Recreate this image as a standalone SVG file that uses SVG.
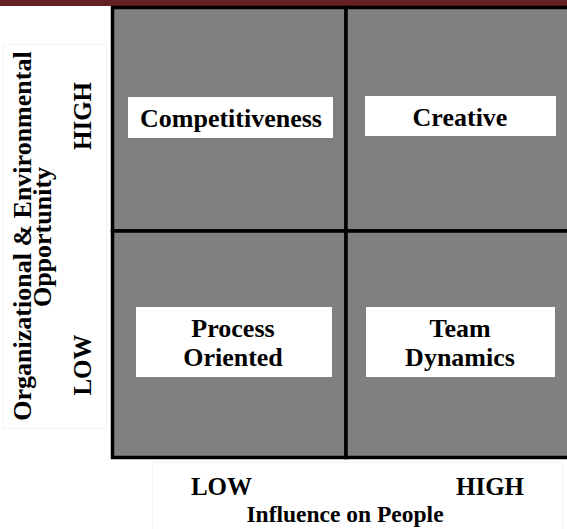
<svg xmlns="http://www.w3.org/2000/svg" width="567" height="529" viewBox="0 0 567 529">
  <style>
    .cell { fill: #808080; stroke: #000; stroke-width: 3.5; }
    .box { fill: #fff; }
    .txt { font-family: "Liberation Serif", "Times New Roman", serif; font-weight: bold; font-size: 26px; fill: #000; text-anchor: middle; }
    .axis { font-size: 25px; }
    .title { font-size: 23.5px; }
    .frame { fill: none; stroke: #f3f3f3; stroke-width: 1; }
  </style>
  <rect width="567" height="529" fill="#fff"/>
  <!-- top band -->
  <rect x="0" y="0" width="567" height="6" fill="#652022"/>

  <!-- faint label frames -->
  <rect class="frame" x="3.5" y="44.5" width="103" height="384"/>
  <rect class="frame" x="152.5" y="462.5" width="410" height="70"/>

  <!-- matrix quadrants -->
  <g id="quadrants">
    <rect class="cell" x="112.5" y="7.5" width="233.5" height="223.5"/>
    <rect class="cell" x="346" y="7.5" width="225" height="223.5"/>
    <rect class="cell" x="112.5" y="231" width="233.5" height="226.5"/>
    <rect class="cell" x="346" y="231" width="225" height="226.5"/>
  </g>

  <g id="competitiveness">
    <rect class="box" x="128" y="97" width="205" height="41"/>
    <text class="txt" x="231" y="127">Competitiveness</text>
  </g>
  <g id="creative">
    <rect class="box" x="365" y="96" width="191" height="40"/>
    <text class="txt" x="460" y="126">Creative</text>
  </g>
  <g id="process-oriented">
    <rect class="box" x="136" y="307" width="196" height="70"/>
    <text class="txt" x="233" y="337">Process</text>
    <text class="txt" x="233" y="366">Oriented</text>
  </g>
  <g id="team-dynamics">
    <rect class="box" x="366" y="307" width="189" height="70"/>
    <text class="txt" x="460" y="337">Team</text>
    <text class="txt" x="460" y="366">Dynamics</text>
  </g>

  <!-- axis labels -->
  <g id="y-axis">
    <text class="txt" transform="translate(31,236) rotate(-90)">Organizational &amp; Environmental</text>
    <text class="txt" transform="translate(51,237) rotate(-90)">Opportunity</text>
    <text class="txt axis" transform="translate(91,116) rotate(-90)">HIGH</text>
    <text class="txt axis" transform="translate(91,365) rotate(-90)">LOW</text>
  </g>
  <g id="x-axis">
    <text class="txt axis" x="221.5" y="495">LOW</text>
    <text class="txt axis" x="490" y="495">HIGH</text>
    <text class="txt title" x="345" y="522">Influence on People</text>
  </g>
</svg>
